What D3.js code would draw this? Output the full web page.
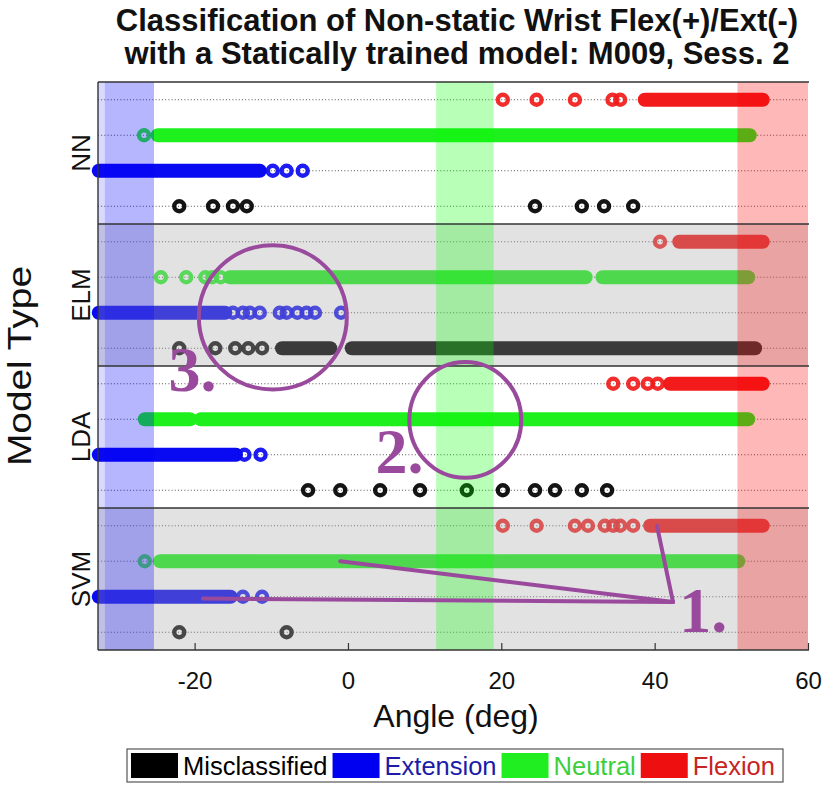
<!DOCTYPE html>
<html>
<head>
<meta charset="utf-8">
<script src="https://cdn.jsdelivr.net/npm/d3@7"></script>
<style>
  html, body { margin: 0; padding: 0; background: #fff; }
  svg { display: block; }
</style>
</head>
<body>
<svg id="chart" width="827" height="791"></svg>
<script>
// ---------------- DATA ----------------
const titleLines = ["Classification of Non-static Wrist Flex(+)/Ext(-)",
                    "with a Statically trained model: M009, Sess. 2"];
const models = ["NN", "ELM", "LDA", "SVM"];
const classes = ["Flexion", "Neutral", "Extension", "Misclassified"];
const xTicks = [-20, 0, 20, 40, 60];
const xDomain = [-32.6, 60];
const xLabel = "Angle (deg)";
const yLabel = "Model Type";
const legendLabels = ["Misclassified", "Extension", "Neutral", "Flexion"];

// shaded target regions (deg)
const bandExtOuter = [-32.6, -25.3];
const bandExtInner = [-31.7, -25.3];
const bandNeutral = [11.5, 19.0];
const bandFlexion = [50.8, 60.0];

// single markers (deg) and dense runs ([from, to] deg) per model / class
const NN_flex = [20.2, 24.6, 29.6, 34.5, 35.5];
const NN_flex_runs = [[38.7, 54.1]];
const NN_neu = [-26.6];
const NN_neu_runs = [[-24.8, 52.4]];
const NN_ext = [-9.8, -8.0, -5.9];
const NN_ext_runs = [[-32.5, -11.5]];
const NN_mis = [-22.0, -17.6, -15.0, -13.2, 24.4, 30.5, 33.4, 37.2];
const NN_mis_runs = [];

const ELM_flex = [40.7];
const ELM_flex_runs = [[43.2, 54.1]];
const ELM_neu = [-24.4, -21.1, -18.6, -17.7, -16.6];
const ELM_neu_runs = [[-15.4, 31.0], [33.2, 52.2]];
const ELM_ext = [-15.0, -13.7, -12.8, -11.5, -8.9, -8.0, -6.6, -5.4, -4.3, -0.9];
const ELM_ext_runs = [[-32.5, -16.0]];
const ELM_mis = [-22.0, -17.3, -14.7, -13.0, -11.2];
const ELM_mis_runs = [[-8.6, -2.3], [0.5, 53.1]];

const LDA_flex = [34.6, 37.2, 39.1, 40.4];
const LDA_flex_runs = [[42.0, 54.1]];
const LDA_neu = [];
const LDA_neu_runs = [[-26.5, -20.6], [-19.2, 52.2]];
const LDA_ext = [-13.5, -11.4];
const LDA_ext_runs = [[-32.5, -14.6]];
const LDA_mis = [-5.2, -1.0, 4.2, 9.4, 15.5, 20.2, 24.4, 27.0, 30.5, 33.8];
const LDA_mis_runs = [];

const SVM_flex = [20.2, 24.6, 29.6, 31.3, 33.5, 34.6, 35.5, 37.2];
const SVM_flex_runs = [[39.4, 54.1]];
const SVM_neu = [-26.5];
const SVM_neu_runs = [[-24.5, 50.9]];
const SVM_ext = [-13.7, -11.2];
const SVM_ext_runs = [[-32.5, -15.3]];
const SVM_mis = [-22.0, -8.0];
const SVM_mis_runs = [];

// annotations: x in deg, y in global row index (0..15)
const annoEllipses = [
  { cx: -9.8, cy: 6.13, rx: 9.65, ry: 2.03 },
  { cx: 15.3, cy: 9.02, rx: 7.3, ry: 1.63 }
];
const annoLines = [
  [[42.4, 14.15], [-1.0, 13.0]],
  [[42.4, 14.15], [-18.9, 14.05]],
  [[42.4, 14.15], [40.3, 12.0]]
];
const annoLabels = [
  { text: "3.", x: -23.4, y: 8.2 },
  { text: "2.", x: 3.6, y: 10.5 },
  { text: "1.", x: 43.2, y: 15.0 }
];

// ---------------- BUILD ----------------
const series = {
  NN:  { Flexion: [NN_flex, NN_flex_runs], Neutral: [NN_neu, NN_neu_runs], Extension: [NN_ext, NN_ext_runs], Misclassified: [NN_mis, NN_mis_runs] },
  ELM: { Flexion: [ELM_flex, ELM_flex_runs], Neutral: [ELM_neu, ELM_neu_runs], Extension: [ELM_ext, ELM_ext_runs], Misclassified: [ELM_mis, ELM_mis_runs] },
  LDA: { Flexion: [LDA_flex, LDA_flex_runs], Neutral: [LDA_neu, LDA_neu_runs], Extension: [LDA_ext, LDA_ext_runs], Misclassified: [LDA_mis, LDA_mis_runs] },
  SVM: { Flexion: [SVM_flex, SVM_flex_runs], Neutral: [SVM_neu, SVM_neu_runs], Extension: [SVM_ext, SVM_ext_runs], Misclassified: [SVM_mis, SVM_mis_runs] }
};

const colors = { Flexion: "#f21a1a", Neutral: "#1ef01e", Extension: "#0a0af2", Misclassified: "#000000" };
const legendSwatch = { Misclassified: "#000000", Extension: "#0000f0", Neutral: "#20ee20", Flexion: "#ee1010" };
const legendText = { Misclassified: "#000000", Extension: "#1c1ca8", Neutral: "#3ccf3c", Flexion: "#c82424" };
const grayPanels = ["ELM", "SVM"];
const purple = "#9a4a9c";
const sans = "'Liberation Sans', Arial, Helvetica, sans-serif";
const serif = "'Liberation Serif', 'Times New Roman', serif";

const L = 98, R = 808, T = 82, B = 650;
const svg = d3.select("#chart");

const x = d3.scaleLinear().domain(xDomain).range([L, R]);
const panel = d3.scaleBand().domain(models).range([T, B]);
const row = d3.scaleBand().domain(classes).range([0, panel.bandwidth()]);
const yRow = d3.scaleLinear().domain([-0.5, models.length * classes.length - 0.5]).range([T, B]);
const yOf = (m, c) => panel(m) + row(c) + row.bandwidth() / 2;

// background
svg.append("rect").attr("width", 827).attr("height", 791).attr("fill", "#fff");

// dotted grid lines per row
const gridG = svg.append("g");
models.forEach(m => classes.forEach(c => {
  gridG.append("line")
    .attr("x1", L).attr("x2", R)
    .attr("y1", yOf(m, c)).attr("y2", yOf(m, c))
    .attr("stroke", "#555").attr("stroke-width", 1)
    .attr("stroke-dasharray", "1,2.2");
}));

// markers
const markG = svg.append("g");
models.forEach(m => classes.forEach(c => {
  const [pts, runs] = series[m][c];
  const y = yOf(m, c);
  markG.selectAll(null).data(runs).enter().append("line")
    .attr("x1", d => x(d[0])).attr("x2", d => x(d[1]))
    .attr("y1", y).attr("y2", y)
    .attr("stroke", colors[c]).attr("stroke-width", 14)
    .attr("stroke-linecap", "round");
  markG.selectAll(null).data(pts).enter().append("circle")
    .attr("cx", d => x(d)).attr("cy", y).attr("r", 5)
    .attr("fill", "none").attr("stroke", colors[c]).attr("stroke-width", 4.4)
    .attr("opacity", 0.92);
}));

// gray overlay panels
grayPanels.forEach(m => {
  svg.append("rect")
    .attr("x", L).attr("y", panel(m)).attr("width", R - L).attr("height", panel.bandwidth())
    .attr("fill", "rgb(170,170,170)").attr("opacity", 0.34);
});

// translucent bands
const bandRect = (b, col, op) => svg.append("rect")
  .attr("x", x(b[0])).attr("y", T).attr("width", x(b[1]) - x(b[0])).attr("height", B - T)
  .attr("fill", col).attr("opacity", op);
bandRect(bandExtOuter, "#0000ff", 0.15);
bandRect(bandExtInner, "#0000ff", 0.16);
bandRect(bandNeutral, "#00ff00", 0.28);
bandRect(bandFlexion, "#ff0000", 0.28);

// panel separators and frame
const sepG = svg.append("g");
models.forEach(m => {
  sepG.append("line").attr("x1", L).attr("x2", R + 1)
    .attr("y1", panel(m)).attr("y2", panel(m))
    .attr("stroke", "#333").attr("stroke-width", 1.4);
});
sepG.append("line").attr("x1", L).attr("x2", R + 1).attr("y1", B).attr("y2", B)
  .attr("stroke", "#333").attr("stroke-width", 1.4);
sepG.append("line").attr("x1", L).attr("x2", L).attr("y1", T).attr("y2", B)
  .attr("stroke", "#333").attr("stroke-width", 1.4);

// x axis
const xAxis = d3.axisBottom(x).tickValues(xTicks).tickFormat(d => String(d))
  .tickSizeInner(-7).tickSizeOuter(0).tickPadding(22);
const ax = svg.append("g").attr("transform", `translate(0,${B})`).call(xAxis);
ax.select(".domain").remove();
ax.selectAll(".tick line").attr("stroke", "#333").attr("stroke-width", 1.2);
ax.selectAll(".tick text").attr("font-family", sans).attr("font-size", 24).attr("fill", "#111");

// axis labels
svg.append("text").attr("x", 456).attr("y", 727)
  .attr("text-anchor", "middle").attr("font-family", sans).attr("font-size", 32)
  .attr("fill", "#111").text(xLabel);
svg.append("text").attr("transform", `translate(31,${(T + B) / 2}) rotate(-90)`)
  .attr("text-anchor", "middle").attr("font-family", sans).attr("font-size", 33)
  .attr("textLength", 200).attr("lengthAdjust", "spacingAndGlyphs")
  .attr("fill", "#111").text(yLabel);
models.forEach(m => {
  svg.append("text").attr("transform", `translate(90,${panel(m) + panel.bandwidth() / 2}) rotate(-90)`)
    .attr("text-anchor", "middle").attr("font-family", sans).attr("font-size", 26)
    .attr("fill", "#111").text(m);
});

// title
svg.append("g").selectAll("text").data(titleLines).enter().append("text")
  .attr("x", 457).attr("y", (d, i) => 31 + i * 33)
  .attr("text-anchor", "middle").attr("font-family", sans).attr("font-weight", "bold")
  .attr("font-size", 31).attr("fill", "#111").text(d => d);

// legend
const lg = svg.append("g");
lg.append("rect").attr("x", 127).attr("y", 749).attr("width", 656).attr("height", 33)
  .attr("fill", "#fff").attr("stroke", "#555").attr("stroke-width", 1.2);
let lx = 131;
legendLabels.forEach(lbl => {
  lg.append("rect").attr("x", lx).attr("y", 753).attr("width", 47).attr("height", 25)
    .attr("fill", legendSwatch[lbl]);
  const t = lg.append("text").attr("x", lx + 52).attr("y", 775)
    .attr("font-family", sans).attr("font-size", 25.5).attr("fill", legendText[lbl]).text(lbl);
  lx = lx + 52 + t.node().getComputedTextLength() + 5;
});

// annotations
const ag = svg.append("g");
annoEllipses.forEach(e => {
  ag.append("ellipse")
    .attr("cx", x(e.cx)).attr("cy", yRow(e.cy))
    .attr("rx", x(e.cx + e.rx) - x(e.cx)).attr("ry", yRow(e.cy + e.ry) - yRow(e.cy))
    .attr("fill", "none").attr("stroke", purple).attr("stroke-width", 4);
});
annoLines.forEach(l => {
  ag.append("line")
    .attr("x1", x(l[0][0])).attr("y1", yRow(l[0][1]))
    .attr("x2", x(l[1][0])).attr("y2", yRow(l[1][1]))
    .attr("stroke", purple).attr("stroke-width", 4).attr("stroke-linecap", "round");
});
annoLabels.forEach(a => {
  ag.append("text").attr("x", x(a.x)).attr("y", yRow(a.y))
    .attr("font-family", serif).attr("font-weight", "bold").attr("font-size", 64)
    .attr("fill", purple).text(a.text);
});
</script>
</body>
</html>
